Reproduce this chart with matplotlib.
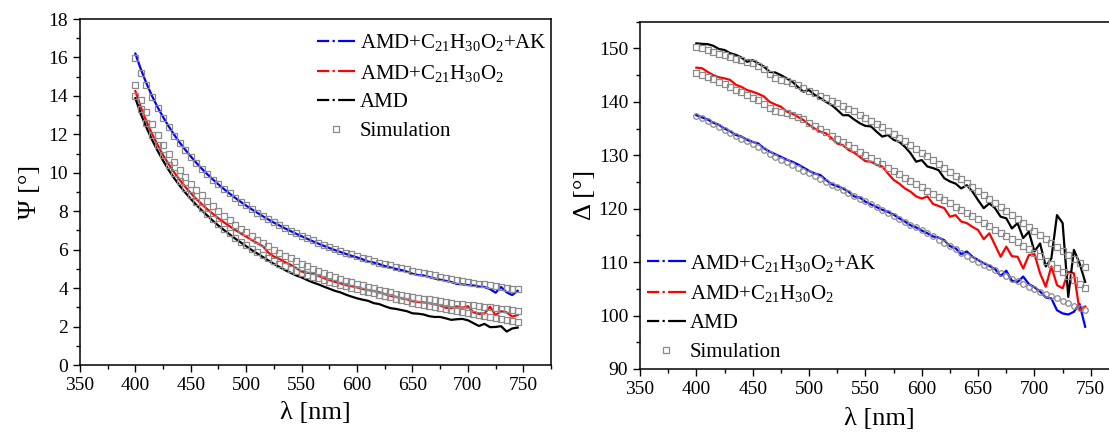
import numpy as np
import matplotlib
matplotlib.use("Agg")
import matplotlib.pyplot as plt
from matplotlib.lines import Line2D
from matplotlib.ticker import MultipleLocator

plt.rcParams['font.family'] = ['Liberation Serif', 'DejaVu Serif']
plt.rcParams['mathtext.fontset'] = 'custom'
plt.rcParams['mathtext.rm'] = 'Liberation Serif'
plt.rcParams['mathtext.it'] = 'Liberation Serif:italic'

# wavelength grid (nm)
wl = np.arange(400, 750, 5)

labels = ['AMD+C$_{21}$H$_{30}$O$_2$+AK', 'AMD+C$_{21}$H$_{30}$O$_2$', 'AMD', 'Simulation']

# ---- Psi (left) ----
psi_ak = [16.2, 15.38, 14.65, 14.0, 13.42, 12.9, 12.42, 11.98, 11.57, 11.2,
          10.85, 10.52, 10.21, 9.92, 9.65, 9.39, 9.15, 8.92, 8.7, 8.49,
          8.29, 8.1, 7.92, 7.74, 7.57, 7.41, 7.26, 7.11, 6.97, 6.83,
          6.7, 6.57, 6.44, 6.32, 6.2, 6.09, 5.98, 5.88, 5.78, 5.68,
          5.6, 5.5, 5.38, 5.33, 5.25, 5.15, 5.08, 5.0, 4.94, 4.86,
          4.75, 4.68, 4.66, 4.58, 4.5, 4.44, 4.38, 4.32, 4.22, 4.2,
          4.16, 4.14, 4.08, 4.06, 3.95, 3.76, 4.06, 3.78, 3.64, 3.86]
psi_c21 = [14.25, 13.4, 12.68, 12.03, 11.45, 10.92, 10.45, 10.02, 9.63, 9.27,
           8.94, 8.64, 8.36, 8.1, 7.86, 7.63, 7.42, 7.22, 7.03, 6.85,
           6.68, 6.5, 6.34, 6.18, 5.85, 5.64, 5.52, 5.35, 5.22, 5.05,
           4.86, 4.8, 4.78, 4.65, 4.52, 4.42, 4.33, 4.25, 4.16, 4.1,
           4.04, 3.96, 3.9, 3.85, 3.79, 3.69, 3.6, 3.55, 3.47, 3.42,
           3.32, 3.28, 3.26, 3.22, 3.16, 3.1, 2.98, 2.96, 3.05, 2.98,
           3.06, 2.74, 2.66, 2.68, 3.03, 2.6, 2.8, 2.74, 2.52, 2.6]
psi_amd = [13.88, 13.05, 12.35, 11.72, 11.15, 10.63, 10.15, 9.72, 9.33, 8.97,
           8.64, 8.33, 8.04, 7.77, 7.5, 7.25, 7.02, 6.8, 6.58, 6.38,
           6.18, 5.98, 5.8, 5.62, 5.44, 5.26, 5.1, 4.94, 4.8, 4.66,
           4.56, 4.42, 4.3, 4.2, 4.08, 3.97, 3.86, 3.78, 3.66, 3.56,
           3.47, 3.4, 3.34, 3.22, 3.17, 3.06, 2.96, 2.92, 2.86, 2.8,
           2.69, 2.67, 2.63, 2.54, 2.5, 2.5, 2.43, 2.35, 2.38, 2.4,
           2.33, 2.18, 2.03, 2.14, 1.97, 1.98, 2.02, 1.74, 1.9, 1.95]
psi_sim_ak = [15.95, 15.2, 14.56, 13.92, 13.35, 12.83, 12.36, 11.92, 11.54, 11.18,
              10.83, 10.5, 10.2, 9.92, 9.65, 9.4, 9.16, 8.93, 8.71, 8.5,
              8.3, 8.11, 7.93, 7.76, 7.59, 7.43, 7.28, 7.13, 6.99, 6.85,
              6.72, 6.6, 6.48, 6.36, 6.25, 6.14, 6.04, 5.94, 5.84, 5.75,
              5.66, 5.57, 5.49, 5.41, 5.33, 5.25, 5.18, 5.11, 5.04, 4.97,
              4.9, 4.84, 4.78, 4.72, 4.66, 4.6, 4.55, 4.49, 4.44, 4.39,
              4.34, 4.29, 4.24, 4.2, 4.15, 4.11, 4.06, 4.02, 3.98, 3.94]
psi_sim_c21 = [14.58, 13.81, 13.17, 12.53, 11.96, 11.44, 10.97, 10.54, 10.14, 9.79,
               9.44, 9.1, 8.84, 8.54, 8.27, 8.0, 7.76, 7.53, 7.3, 7.1,
               6.9, 6.7, 6.52, 6.34, 6.17, 6.0, 5.84, 5.69, 5.55, 5.41,
               5.27, 5.14, 5.02, 4.9, 4.79, 4.68, 4.58, 4.48, 4.39, 4.3,
               4.22, 4.14, 4.06, 3.99, 3.92, 3.85, 3.78, 3.72, 3.66, 3.6,
               3.55, 3.5, 3.45, 3.41, 3.36, 3.32, 3.28, 3.24, 3.2, 3.17,
               3.13, 3.1, 3.06, 3.03, 3.0, 2.96, 2.93, 2.9, 2.87, 2.83]
psi_sim_amd = [14.0, 13.3, 12.6, 11.98, 11.42, 10.9, 10.42, 9.98, 9.58, 9.2,
               8.85, 8.5, 8.17, 7.87, 7.59, 7.33, 7.08, 6.85, 6.63, 6.42,
               6.22, 6.05, 5.88, 5.72, 5.56, 5.4, 5.27, 5.14, 5.02, 4.91,
               4.8, 4.7, 4.6, 4.51, 4.42, 4.34, 4.25, 4.17, 4.09, 4.01,
               3.94, 3.87, 3.8, 3.73, 3.66, 3.59, 3.52, 3.45, 3.38, 3.31,
               3.24, 3.18, 3.12, 3.06, 3.0, 2.95, 2.89, 2.84, 2.79, 2.74,
               2.69, 2.64, 2.59, 2.54, 2.49, 2.44, 2.39, 2.35, 2.3, 2.26]

# ---- Delta (right) ----
del_ak = [137.5, 137.1, 136.7, 136.1, 135.7, 135.0, 134.5, 133.8, 133.5, 132.9,
          132.5, 132.2, 131.3, 130.7, 130.2, 129.7, 129.2, 128.8, 128.3, 127.7,
          127.1, 126.6, 126.3, 125.4, 124.6, 124.2, 123.8, 123.2, 122.3, 122.1,
          121.3, 120.8, 120.3, 119.8, 119.4, 118.9, 118.2, 117.6, 116.9, 116.5,
          115.9, 115.4, 114.8, 114.6, 114.1, 113.0, 112.6, 111.5, 112.0, 111.0,
          110.4, 109.8, 109.3, 108.7, 107.4, 108.4, 106.5, 106.3, 107.3, 105.9,
          105.3, 104.5, 103.4, 103.2, 101.0, 100.4, 100.2, 100.7, 102.2, 97.9]
del_c21 = [146.4, 146.3, 145.6, 145.0, 144.6, 144.4, 144.1, 143.2, 142.8, 142.2,
           141.9, 141.5, 141.0, 140.0, 139.5, 139.1, 138.2, 137.8, 137.2, 136.6,
           135.7, 135.0, 134.4, 134.1, 133.2, 132.2, 131.9, 131.0, 130.5, 129.7,
           128.9, 128.8, 128.2, 127.9, 126.6, 125.4, 124.7, 123.8, 123.2, 122.3,
           121.9, 122.3, 120.9, 120.5, 120.1, 118.5, 118.8, 117.6, 117.3, 116.6,
           116.0, 114.3, 115.4, 113.2, 111.0, 112.9, 111.1, 111.0, 108.8, 111.3,
           111.5, 107.9, 105.4, 109.2, 105.7, 105.1, 108.2, 107.9, 101.0, 101.7]
del_amd = [150.95, 150.85, 150.8, 150.5, 149.9, 149.7, 149.1, 148.8, 148.3, 147.5,
           147.8, 147.2, 146.6, 145.6, 145.5, 145.0, 144.4, 143.8, 142.8, 141.9,
           142.2, 141.3, 140.7, 140.0, 139.4, 138.5, 137.5, 137.5, 136.7, 136.0,
           135.5, 135.4, 134.4, 133.5, 133.8, 132.9, 132.5, 131.6, 130.4, 128.8,
           129.1, 127.9, 127.6, 127.2, 125.7, 125.1, 124.7, 123.8, 124.4, 123.2,
           121.6, 120.1, 121.0, 120.1, 118.5, 118.2, 116.3, 117.3, 114.5, 115.7,
           112.0, 113.5, 109.2, 110.7, 118.8, 117.3, 103.5, 112.3, 109.8, 106.3]
del_sim_ak = [137.4, 136.9, 136.4, 135.9, 135.3, 134.8, 134.2, 133.7, 133.1, 132.6,
              132.1, 131.5, 130.9, 130.2, 129.6, 129.2, 128.7, 128.2, 127.7, 127.1,
              126.6, 126.1, 125.6, 125.0, 124.5, 124.0, 123.5, 122.9, 122.4, 121.9,
              121.4, 120.9, 120.3, 119.8, 119.2, 118.7, 118.1, 117.6, 117.0, 116.5,
              116.0, 115.4, 114.8, 114.2, 113.6, 113.0, 112.4, 111.8, 111.2, 110.6,
              110.1, 109.5, 109.0, 108.5, 107.9, 107.4, 106.9, 106.4, 105.9, 105.4,
              104.9, 104.5, 104.1, 103.6, 103.2, 102.7, 102.3, 101.8, 101.4, 101.0]
del_sim_c21 = [145.4, 145.0, 144.6, 144.2, 143.8, 143.3, 142.8, 142.3, 141.8, 141.3,
               140.8, 140.3, 139.6, 138.8, 138.3, 138.1, 137.9, 137.6, 137.2, 136.7,
               136.1, 135.5, 134.9, 134.3, 133.7, 133.1, 132.5, 131.9, 131.3, 130.7,
               130.1, 129.5, 128.9, 128.3, 127.7, 127.1, 126.5, 125.8, 125.2, 124.6,
               124.0, 123.4, 122.8, 122.2, 121.6, 121.0, 120.4, 119.8, 119.2, 118.6,
               118.0, 117.4, 116.8, 116.1, 115.5, 114.9, 114.3, 113.7, 113.0, 112.4,
               111.8, 111.1, 110.3, 109.6, 108.9, 108.1, 107.4, 106.7, 105.9, 105.2]
del_sim_amd = [150.2, 150.0, 149.7, 149.35, 149.0, 148.7, 148.4, 148.1, 147.8, 147.5,
               147.2, 146.7, 146.1, 145.3, 144.4, 144.0, 143.9, 143.6, 143.1, 142.6,
               142.1, 141.6, 141.1, 140.7, 140.2, 139.7, 139.2, 138.7, 138.2, 137.6,
               137.0, 136.5, 135.9, 135.3, 134.6, 134.0, 133.3, 132.6, 131.9, 131.2,
               130.5, 129.8, 129.1, 128.3, 127.6, 126.9, 126.2, 125.5, 124.8, 124.1,
               123.3, 122.6, 121.9, 121.1, 120.4, 119.6, 118.9, 118.1, 117.4, 116.6,
               115.9, 115.1, 114.4, 113.6, 112.9, 112.1, 111.4, 110.6, 109.8, 109.0]

colors = ['#0000ff', '#ff0000', '#000000']
simc = '#8a8a8a'
dash = (0, (5.5, 1.5, 1, 1.5, 12, 2))


def style_axes(ax, ylim, ymaj, ymin):
    ax.set_xlim(350, 775)
    ax.set_ylim(*ylim)
    ax.xaxis.set_major_locator(MultipleLocator(50))
    ax.xaxis.set_minor_locator(MultipleLocator(25))
    ax.yaxis.set_major_locator(MultipleLocator(ymaj))
    ax.yaxis.set_minor_locator(MultipleLocator(ymin))
    ax.tick_params(which='both', direction='out', top=False, right=False,
                   labelsize=14, width=1.0)
    ax.tick_params(which='major', length=5)
    ax.tick_params(which='minor', length=3)
    for s in ax.spines.values():
        s.set_linewidth(1.1)


def handles(sim_marker):
    h = [Line2D([], [], color=c, lw=1.6, linestyle=dash) for c in colors]
    h.append(Line2D([], [], ls='none', marker=sim_marker, mfc='none', mec=simc,
                    ms=4, mew=0.9))
    return h


fig = plt.figure(figsize=(11.09, 4.36), dpi=100)

# left: Psi
ax1 = fig.add_axes([0.0721, 0.1628, 0.4247, 0.7936])
for y, c in zip([psi_ak, psi_c21, psi_amd], colors):
    ax1.plot(wl, y, color=c, lw=1.6)
for y in [psi_sim_ak, psi_sim_c21, psi_sim_amd]:
    ax1.plot(wl, y, ls='none', marker='s', mfc='none', mec=simc, ms=4, mew=0.9)
style_axes(ax1, (0, 18), 2, 1)
ax1.set_xlabel('λ [nm]', fontsize=19, labelpad=6)
ax1.set_ylabel('Ψ [°]', fontsize=19, labelpad=5)
ax1.legend(handles('s'), labels, loc='upper left', bbox_to_anchor=(0.503, 0.962),
           frameon=False, fontsize=15, handlelength=1.85, handletextpad=0.2,
           labelspacing=0.45, borderpad=0, borderaxespad=0)

# right: Delta
ax2 = fig.add_axes([0.5771, 0.1537, 0.4319, 0.7965])
for y, c in zip([del_ak, del_c21, del_amd], colors):
    ax2.plot(wl, y, color=c, lw=1.6)
ax2.plot(wl, del_sim_ak, ls='none', marker='o', mfc='none', mec=simc, ms=4, mew=0.9)
for y in [del_sim_c21, del_sim_amd]:
    ax2.plot(wl, y, ls='none', marker='s', mfc='none', mec=simc, ms=4, mew=0.9)
style_axes(ax2, (90, 155), 10, 5)
ax2.set_xlabel('λ [nm]', fontsize=19, labelpad=7)
ax2.set_ylabel('Δ [°]', fontsize=19, labelpad=2)
ax2.legend(handles('s'), labels, loc='lower left', bbox_to_anchor=(0.015, 0.02),
           frameon=False, fontsize=15, handlelength=1.85, handletextpad=0.2,
           labelspacing=0.45, borderpad=0, borderaxespad=0)

fig.savefig('out.png', dpi=100)
